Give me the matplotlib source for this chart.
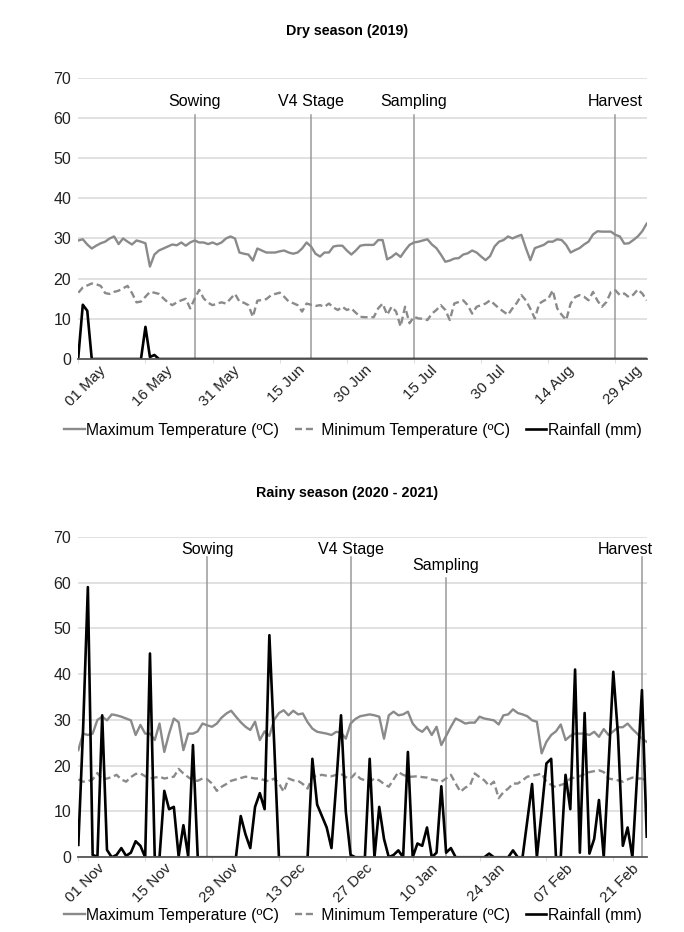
import matplotlib
matplotlib.use("Agg")
import matplotlib.pyplot as plt
import matplotlib.dates as mdates
import matplotlib.transforms as mtransforms
import pandas as pd

plt.rcParams['font.family'] = ['Liberation Sans', 'DejaVu Sans']

# ---- Dry season 2019 (daily from 01 May) ----
dry_start = "2019-05-01"
dry_tmax = [29.5, 29.8, 28.5, 27.5, 28.2, 28.8, 29.2, 30, 30.5, 28.6,
            30, 29.2, 28.5, 29.5, 29.2, 28.8, 23, 26, 27, 27.5,
            28, 28.5, 28.3, 29, 28.2, 29, 29.5, 29, 29, 28.6,
            29, 28.5, 29, 30, 30.5, 30, 26.5, 26.2, 26, 24.5,
            27.5, 27, 26.5, 26.5, 26.5, 26.8, 27, 26.5, 26.2, 26.5,
            27.5, 29, 28, 26.2, 25.5, 26.5, 26.5, 28, 28.2, 28.2,
            27, 26, 27, 28.2, 28.4, 28.4, 28.4, 29.6, 29.6, 24.8,
            25.4, 26.3, 25.4, 27, 28.4, 29, 29.2, 29.5, 29.8, 28.5,
            27.6, 26, 24.2, 24.5, 25, 25.1, 26, 26.3, 27, 26.5,
            25.5, 24.6, 25.6, 28, 29.2, 29.6, 30.5, 30, 30.5, 30.9,
            27.6, 24.6, 27.6, 28, 28.4, 29.2, 29.2, 29.8, 29.6, 28.4,
            26.5, 27.1, 27.6, 28.5, 29.2, 31, 31.8, 31.7, 31.7, 31.7,
            30.9, 30.5, 28.7, 28.8, 29.6, 30.5, 31.8, 33.7]
dry_tmin = [16.5, 17.8, 18.3, 18.8, 18.6, 18.2, 16.4, 16.2, 16.7, 17,
            17.6, 18.2, 16.4, 14.1, 14.3, 15.5, 16.7, 16.5, 16.2, 15.1,
            14.1, 13.4, 14.1, 14.6, 15, 12.6, 15, 17.2, 15.1, 14,
            13.4, 13.8, 14.1, 13.8, 15, 16.2, 14.3, 14, 13.4, 10.5,
            14.5, 14.7, 14.9, 15.8, 16.2, 16.5, 15.5, 14.3, 13.9, 13.4,
            11.8, 13.8, 13.5, 13.2, 13.4, 13, 13.8, 12.8, 12.2, 13,
            12.2, 12.6, 11.5, 10.5, 10.4, 10.4, 10.4, 12.6, 13.8, 11,
            13, 11.8, 8.1, 13, 8.9, 10.5, 10.1, 10, 9.7, 11.3,
            12.2, 13.4, 12.2, 9.7, 13.8, 14.2, 14.6, 13.4, 11.3, 13,
            13.4, 13.8, 14.6, 13.6, 12.6, 11.8, 11, 12.6, 14, 15.9,
            14.6, 12.5, 10.1, 13.8, 14.5, 15, 17.1, 12.6, 11, 9.7,
            13.8, 15.4, 15.9, 15.5, 14.6, 16.7, 14.5, 13, 14.2, 16.7,
            17.1, 15.9, 16.3, 15.4, 16, 17.3, 16.3, 14.6]
dry_rain = [0.5, 13.5, 12, 0, 0, 0, 0, 0, 0, 0,
            0, 0, 0, 0, 0, 8, 0.5, 1, 0, 0,
            0, 0, 0, 0, 0, 0, 0, 0, 0, 0,
            0, 0, 0, 0, 0, 0, 0, 0, 0, 0,
            0, 0, 0, 0, 0, 0, 0, 0, 0, 0,
            0, 0, 0, 0, 0, 0, 0, 0, 0, 0,
            0, 0, 0, 0, 0, 0, 0, 0, 0, 0,
            0, 0, 0, 0, 0, 0, 0, 0, 0, 0,
            0, 0, 0, 0, 0, 0, 0, 0, 0, 0,
            0, 0, 0, 0, 0, 0, 0, 0, 0, 0,
            0, 0, 0, 0, 0, 0, 0, 0, 0, 0,
            0, 0, 0, 0, 0, 0, 0, 0, 0, 0,
            0, 0, 0, 0, 0, 0, 0, 0]
dry_stages = ["Sowing", "V4 Stage", "Sampling", "Harvest"]
dry_stage_dates = ["2019-05-27", "2019-06-22", "2019-07-15", "2019-08-29"]

# ---- Rainy season 2020-2021 (daily from 01 Nov) ----
rainy_start = "2020-11-01"
rainy_tmax = [23.4, 27, 26.7, 27, 30, 30.7, 29.9, 31.2, 31, 30.7,
              30.3, 29.9, 26.7, 28.9, 27, 27, 25.6, 29.2, 23, 27,
              30.3, 29.5, 23.4, 27, 27, 27.5, 29.2, 28.8, 28.5, 29.2,
              30.5, 31.4, 32, 30.7, 29.5, 28.5, 27.8, 29.6, 25.6, 27.5,
              26.5, 30, 31.5, 32.1, 31, 32, 31.2, 31.4, 29.5, 28.1,
              27.4, 27.2, 27, 26.7, 27.4, 27.2, 25.9, 29.2, 30.2, 30.8,
              31, 31.2, 31, 30.7, 25.9, 31, 31.8, 31, 31.2, 31.8,
              29.2, 28, 27.4, 28.5, 26.7, 28.5, 24.5, 26.5, 28.5, 30.3,
              29.8, 29.2, 29.4, 29.4, 30.7, 30.3, 30.1, 29.9, 29, 31,
              31.2, 32.3, 31.5, 31.2, 30.8, 29.9, 29.6, 22.7, 25.2, 26.7,
              27.5, 29, 25.6, 26.5, 27, 27, 27, 26.7, 27.4, 26.3,
              28, 26.7, 27.5, 28.4, 28.4, 29.2, 28, 27, 25.9, 25.2]
rainy_tmin = [17, 16.5, 16.6, 17, 18.4, 17, 17.2, 17.5, 18, 17,
              16.5, 17.5, 18.2, 18.3, 17.7, 17.2, 17.4, 17.6, 17.2, 17.4,
              17.6, 19.3, 18.3, 17.5, 16.8, 16.7, 17.2, 17, 16.1, 14.5,
              15.4, 16, 16.7, 17, 17.3, 17.6, 17.4, 17.2, 17.2, 16.8,
              16.6, 17.2, 16.1, 14.3, 17.2, 16.8, 16.7, 16, 15, 17.6,
              17.8, 18, 17.8, 17.7, 18, 18.2, 17.5, 17.2, 18.3, 17.2,
              16.8, 16.5, 17.2, 16.8, 16, 15.4, 17, 18.6, 18, 17.6,
              17.6, 17.7, 17.5, 17.4, 17, 16.8, 16.5, 17.2, 18, 16.1,
              14.3, 15.2, 15.7, 18.3, 17.5, 16.8, 15.6, 16.5, 12.9, 14.2,
              15, 16.1, 16.1, 16.8, 17.6, 17.8, 18, 18.3, 16.5, 15.8,
              15.3, 15.8, 16.1, 17.2, 17.4, 17.7, 18.2, 18.6, 18.8, 19,
              18.6, 17.2, 17, 16.8, 16.5, 17, 17.4, 17.2, 17.2, 16.5]
rainy_rain = [2.7, 28, 59, 0.5, 0.1, 31, 1.6, 0, 0.5, 2,
              0.3, 1, 3.5, 2.5, 0, 44.5, 0, 0, 14.5, 10.5,
              11, 0.2, 7, 0.2, 24.5, 0, 0, 0, 0, 0,
              0, 0, 0, 0, 9, 5, 2, 11, 14, 10.5,
              48.5, 25, 0, 0, 0, 0, 0, 0, 0, 21.5,
              11.5, 9, 6.5, 2, 16, 31, 10, 0.5, 0, 0,
              0, 21.5, 0, 11, 4, 0, 0.5, 1.5, 0, 23,
              0, 3, 2.5, 6.5, 0, 1, 15.5, 1, 2, 0,
              0, 0, 0, 0, 0, 0, 0.8, 0, 0, 0,
              0, 1.5, 0, 0, 8, 16, 0, 10, 20.5, 21.5,
              0, 0, 18, 10.5, 41, 1, 31.5, 0.8, 4, 12.5,
              0, 20, 40.5, 26.5, 2.5, 6.5, 0, 18, 36.5, 4.5]
rainy_stages = ["Sowing", "V4 Stage", "Sampling", "Harvest"]
rainy_stage_dates = ["2020-11-28", "2020-12-28", "2021-01-17", "2021-02-27"]

GREY = "#8a8a8a"


def draw_panel(fig, rect, start, tmax, tmin, rain, stages, stage_dates,
               step, line_tops, label_ys, title, title_y, legend_y):
    ax = fig.add_axes(rect)
    d_max = pd.date_range(start, periods=len(tmax), freq="D")
    d_min = pd.date_range(start, periods=len(tmin), freq="D")
    d_rain = pd.date_range(start, periods=len(rain), freq="D")
    ax.plot(d_max, tmax, color=GREY, lw=1.7, label="Maximum Temperature (ºC)")
    ax.plot(d_min, tmin, color=GREY, lw=1.7, ls=(0, (3, 1.6)),
            label=" Minimum Temperature (ºC)")
    ax.plot(d_rain, rain, color="black", lw=1.9, label="Rainfall (mm)")

    for name, sd, top, ly in zip(stages, stage_dates, line_tops, label_ys):
        x = pd.Timestamp(sd)
        ax.plot([x, x], [0, top], color="#9a9a9a", lw=1.1, zorder=1)
        if name == "Harvest" and x + pd.Timedelta(days=4) > d_max[-1]:
            ax.text(d_max[-1] + pd.Timedelta(days=1.2), ly, name, ha="right",
                    va="center", fontsize=11.5)
        else:
            ax.text(x, ly, name, ha="center", va="center", fontsize=11.5)

    ax.set_ylim(0, 70)
    ax.set_yticks(range(0, 71, 10))
    ax.set_xlim(d_max[0], d_max[-1])
    ticks = pd.date_range(start, d_max[-1], freq=f"{step}D")
    ax.set_xticks(ticks)
    ax.xaxis.set_major_formatter(mdates.DateFormatter("%d %b"))
    ax.grid(axis="y", color="#dcdcdc", lw=1.2)
    ax.set_axisbelow(True)
    for s in ["left", "right", "top"]:
        ax.spines[s].set_visible(False)
    ax.spines["bottom"].set_color("#555555")
    ax.spines["bottom"].set_linewidth(1.3)
    ax.tick_params(axis="y", length=0, pad=5, labelsize=11.5, colors="#222222")
    ax.tick_params(axis="x", length=3, color="#dddddd", pad=0, labelsize=11,
                   colors="#222222")
    off = mtransforms.ScaledTranslation(7 / 100, 0, fig.dpi_scale_trans)
    for lab in ax.get_xticklabels():
        lab.set_rotation(45)
        lab.set_ha("center")
        lab.set_transform(lab.get_transform() + off)

    fig.text(0.508, title_y, title, ha="center", va="center",
             fontsize=10.3, fontweight="bold")
    h, l = ax.get_legend_handles_labels()
    fig.legend(h, l, loc="center", bbox_to_anchor=(0.516, legend_y),
               ncol=3, frameon=False, fontsize=11.3, handlelength=1.3,
               handletextpad=0.1, columnspacing=1.0)
    return ax


fig = plt.figure(figsize=(6.84, 9.32), dpi=100)
draw_panel(fig, [0.1145, 0.6148, 0.831, 0.3018], dry_start, dry_tmax,
           dry_tmin, dry_rain, dry_stages, dry_stage_dates, 15,
           [60.7, 60.7, 60.7, 60.7], [64, 64, 64, 64],
           "Dry season (2019)", 0.967, 0.5386)
draw_panel(fig, [0.1145, 0.0802, 0.831, 0.3439], rainy_start, rainy_tmax,
           rainy_tmin, rainy_rain, rainy_stages, rainy_stage_dates, 14,
           [65.6, 65.6, 61, 65.6], [67.3, 67.3, 63.8, 67.3],
           "Rainy season (2020 - 2021)", 0.471, 0.0182)
fig.savefig("out.png", dpi=100)
